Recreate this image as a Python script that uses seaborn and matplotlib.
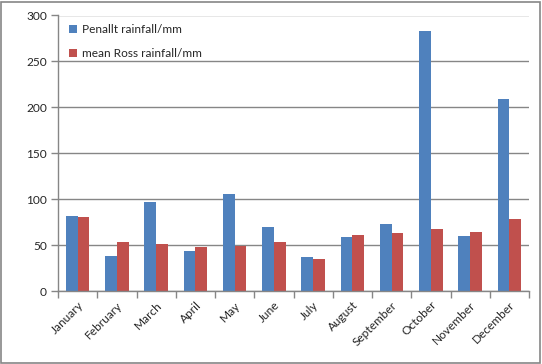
import numpy as np
import pandas as pd
import matplotlib
matplotlib.use('Agg')
import matplotlib.pyplot as plt
import seaborn as sns
from matplotlib.patches import Rectangle

# dados
meses = ['January', 'February', 'March', 'April', 'May', 'June', 'July',
         'August', 'September', 'October', 'November', 'December']
penallt = [82, 38, 97, 44, 106, 70, 37, 59, 73, 283, 60, 209]
ross = [81, 53, 51, 48, 49, 53, 35, 61, 63, 67, 64, 78]
series = ['Penallt rainfall/mm', 'mean Ross rainfall/mm']
cores = ['#4F81BD', '#C0504D']

df = pd.DataFrame({
    'mes': meses * 2,
    'valor': penallt + ross,
    'serie': [series[0]] * 12 + [series[1]] * 12,
})

sns.set_style('white')
plt.rcParams['font.family'] = ['Lato', 'DejaVu Sans']

fig = plt.figure(figsize=(5.42, 3.64), dpi=100)
ax = fig.add_axes([58 / 542, 1 - 291 / 364, 471 / 542, 275.5 / 364])

sns.barplot(data=df, x='mes', y='valor', hue='serie', palette=cores,
            width=0.6, ax=ax, saturation=1, legend=True, linewidth=0)

cinza = '#868686'
ax.set_ylim(0, 300)
ax.set_xlim(-0.5, 11.5)
ax.set_yticks(range(0, 301, 50))
ax.yaxis.grid(True, color=cinza, linewidth=1)
ax.set_axisbelow(True)
ax.set_xlabel('')
ax.set_ylabel('')

for lado in ['top', 'right']:
    ax.spines[lado].set_visible(False)
for lado in ['left', 'bottom']:
    ax.spines[lado].set_color(cinza)
    ax.spines[lado].set_linewidth(1)

# ticks nas divisões entre categorias
ax.set_xticks(np.arange(12))
ax.set_xticklabels(meses, rotation=45, ha='right', rotation_mode='anchor')
ax.set_xticks(np.arange(-0.5, 12, 1), minor=True)
ax.tick_params(axis='x', which='major', length=0, pad=6, labelsize=8.6)
ax.tick_params(axis='x', which='minor', length=5, color=cinza, width=1, direction='out')
ax.tick_params(axis='y', length=5, color=cinza, width=1, direction='out', labelsize=8.6, pad=3)
ax.tick_params(axis='y', left=True)
ax.tick_params(axis='x', bottom=True, which='minor')

leg = ax.legend(loc='upper left', frameon=False, fontsize=8.6, handlelength=0.6,
                handleheight=0.6, labelspacing=1.05, handletextpad=0.45,
                bbox_to_anchor=(0.014, 0.985), borderaxespad=0)

# moldura externa
fig.patches.append(Rectangle((0.002, 0.003), 0.994, 0.992, transform=fig.transFigure,
                             fill=False, edgecolor=cinza, linewidth=1.2))

plt.savefig('out.png', dpi=100)
